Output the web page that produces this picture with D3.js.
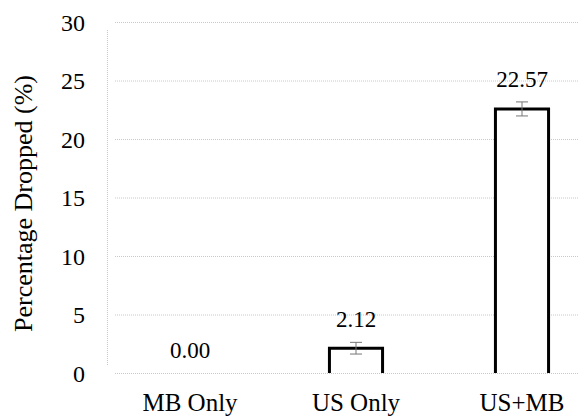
<!DOCTYPE html>
<html>
<head>
<meta charset="utf-8">
<script src="https://cdn.jsdelivr.net/npm/d3@7"></script>
<style>
  body { margin: 0; background: #fff; }
  svg { display: block; }
</style>
</head>
<body>
<svg id="chart" width="581" height="418"></svg>
<script>
// Percentage dropped per configuration
const categories = ['MB Only', 'US Only', 'US+MB'];
const values = [0.00, 2.12, 22.57];
const errors = [0.0, 0.5, 0.6];
const yTicks = [0, 5, 10, 15, 20, 25, 30];

const FONT = `'Liberation Serif'`;
const NUM_FONT = `'Times New Roman'`;

const svg = d3.select('#chart');

const plot = { left: 107, right: 605, top: 22, bottom: 373 };

const x = d3.scaleBand()
  .domain(categories)
  .range([plot.left, plot.right])
  .paddingInner(0.68)
  .paddingOuter(0.34);

const y = d3.scaleLinear()
  .domain([0, 30])
  .range([plot.bottom, plot.top]);

// dotted grid
svg.append('g')
  .selectAll('line')
  .data(yTicks)
  .enter()
  .append('line')
  .attr('x1', plot.left + 8)
  .attr('x2', 578)
  .attr('y1', d => y(d) + 0.5)
  .attr('y2', d => y(d) + 0.5)
  .attr('stroke', '#c8c8c8')
  .attr('stroke-width', 1)
  .attr('stroke-dasharray', '1,1');

// dotted y axis line
svg.append('line')
  .attr('x1', plot.left + 0.5)
  .attr('x2', plot.left + 0.5)
  .attr('y1', y(30) + 8)
  .attr('y2', y(0) - 8)
  .attr('stroke', '#c8c8c8')
  .attr('stroke-dasharray', '1,1');

// y tick labels
const yAxis = svg.append('g')
  .attr('transform', `translate(${plot.left - 22},0)`)
  .call(d3.axisLeft(y).tickValues(yTicks).tickSize(0).tickPadding(0));
yAxis.select('.domain').remove();
yAxis.attr('font-family', NUM_FONT);
yAxis.selectAll('text')
  .attr('dy', '0.35em')
  .attr('fill', '#000')
  .attr('font-family', NUM_FONT)
  .style('font-family', NUM_FONT)
  .style('font-size', '24px');

// x labels
const xAxis = svg.append('g')
  .attr('transform', `translate(0,${plot.bottom + 20})`)
  .call(d3.axisBottom(x).tickSize(0).tickPadding(0));
xAxis.select('.domain').remove();
xAxis.attr('font-family', null);
xAxis.selectAll('text')
  .attr('dy', '0.71em')
  .attr('fill', '#000')
  .style('font-family', FONT)
  .style('font-size', '25px');

// y title
svg.append('text')
  .attr('transform', `translate(32,${(plot.top + plot.bottom) / 2 + 6}) rotate(-90)`)
  .attr('text-anchor', 'middle')
  .style('font-family', FONT)
  .style('font-size', '26px')
  .text('Percentage Dropped (%)');

const data = categories.map((c, i) => ({ cat: c, value: values[i], err: errors[i] }));

// bars (open at the bottom)
svg.append('g')
  .selectAll('path')
  .data(data.filter(d => d.value > 0))
  .enter()
  .append('path')
  .attr('d', d => {
    const x0 = x(d.cat), x1 = x(d.cat) + x.bandwidth();
    return `M${x0},${y(0)}V${y(d.value)}H${x1}V${y(0)}`;
  })
  .attr('fill', '#fff')
  .attr('stroke', '#000')
  .attr('stroke-width', 3);

// error bars
const eb = svg.append('g')
  .selectAll('g')
  .data(data.filter(d => d.err > 0))
  .enter()
  .append('g')
  .attr('stroke', '#777')
  .attr('stroke-width', 1);
eb.append('line')
  .attr('x1', d => x(d.cat) + x.bandwidth() / 2)
  .attr('x2', d => x(d.cat) + x.bandwidth() / 2)
  .attr('y1', d => y(d.value + d.err))
  .attr('y2', d => y(d.value - d.err));
eb.append('line')
  .attr('x1', d => x(d.cat) + x.bandwidth() / 2 - 6)
  .attr('x2', d => x(d.cat) + x.bandwidth() / 2 + 6)
  .attr('y1', d => y(d.value + d.err))
  .attr('y2', d => y(d.value + d.err));
eb.append('line')
  .attr('x1', d => x(d.cat) + x.bandwidth() / 2 - 6)
  .attr('x2', d => x(d.cat) + x.bandwidth() / 2 + 6)
  .attr('y1', d => y(d.value - d.err))
  .attr('y2', d => y(d.value - d.err));

// value labels
svg.append('g')
  .attr('font-family', NUM_FONT)
  .selectAll('text')
  .data(data)
  .enter()
  .append('text')
  .attr('x', d => x(d.cat) + x.bandwidth() / 2)
  .attr('y', d => y(d.value + d.err) - 15)
  .attr('text-anchor', 'middle')
  .attr('font-family', NUM_FONT)
  .style('font-family', NUM_FONT)
  .style('font-size', '23px')
  .text(d => d.value.toFixed(2));
</script>
</body>
</html>
